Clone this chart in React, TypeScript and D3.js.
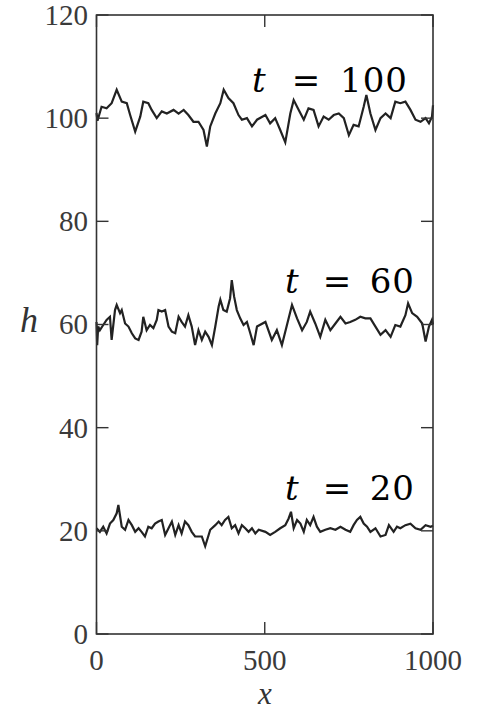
import React from "react";
import * as d3 from "d3";

// ---- data ----
const xTicks = [0, 500, 1000];
const yTicks = [0, 20, 40, 60, 80, 100, 120];
const xTickLabels = ["0", "500", "1000"];
const yTickLabels = ["0", "20", "40", "60", "80", "100", "120"];

const seriesT100: [number, number][] = [
  [0, 101], [3, 99.5], [15, 102.2], [30, 101.9], [45, 102.9], [60, 105.5], [75, 103.2], [90, 102.9],
  [100, 100.6], [115, 97.4], [130, 100.3], [139, 103.2], [154, 102.9], [164, 101.6], [179, 100],
  [194, 101.3], [209, 100.9], [229, 101.6], [244, 100.9], [259, 101.6], [273, 100.6], [288, 99.3],
  [303, 99.3], [318, 97.7], [328, 94.5], [338, 98.4], [353, 100.9], [368, 102.9], [378, 105.5],
  [392, 103.9], [407, 102.9], [422, 100.6], [432, 99.7], [447, 100], [462, 98.4], [477, 99.7],
  [502, 100.6], [516, 99], [531, 100], [546, 97.7], [561, 95.3], [576, 100.9], [586, 103.5],
  [601, 101.6], [616, 99.7], [630, 101.9], [645, 101.6], [660, 98.4], [675, 100.3], [690, 99.7],
  [705, 100.6], [720, 100.9], [735, 100], [750, 96.7], [764, 98.7], [779, 98.4], [794, 102.2],
  [802, 104.5], [814, 100.9], [829, 97.7], [844, 100], [859, 100.9], [874, 100], [888, 103.2],
  [903, 102.9], [918, 103.2], [933, 101.6], [948, 99.7], [963, 99.3], [978, 100], [988, 99],
  [997, 100.3], [1000, 102.5],
];

const seriesT60: [number, number][] = [
  [0, 60.5], [2, 56], [5, 59.6], [10, 58.9], [20, 59.9], [30, 60.9], [40, 61.5], [45, 57],
  [55, 62.8], [60, 63.8], [70, 62.2], [75, 62.8], [85, 60.2], [95, 59.6], [105, 58.3], [115, 57.3],
  [125, 57], [134, 58.6], [139, 61.5], [149, 58.9], [159, 59.9], [169, 59.3], [179, 60.9],
  [184, 62.8], [194, 62.5], [204, 62.8], [214, 59.6], [224, 58.6], [234, 58.3], [244, 61.5],
  [253, 60.5], [263, 59.6], [273, 61.8], [283, 59.6], [293, 56], [303, 58.9], [313, 57],
  [323, 58.6], [333, 57.6], [343, 56], [353, 59.6], [363, 63.5], [368, 64.8], [377, 62.8],
  [387, 62.5], [397, 65.1], [402, 68.6], [409, 65.4], [417, 62.8], [427, 61.2], [437, 59.9],
  [447, 60.5], [457, 58.3], [467, 56], [477, 59.6], [502, 60.5], [521, 57], [536, 58.9],
  [551, 56], [566, 59.9], [581, 63.8], [596, 61.2], [611, 58.9], [625, 60.5], [635, 62.5],
  [650, 60.2], [665, 57.6], [680, 60.9], [695, 58.9], [710, 60.2], [725, 61.5], [740, 60.2],
  [754, 60.5], [769, 60.9], [784, 61.5], [799, 61.2], [814, 61.2], [829, 59.6], [844, 58],
  [859, 58.9], [874, 57.6], [888, 59.9], [903, 59.6], [918, 61.8], [926, 64.1], [938, 62.2],
  [953, 61.5], [968, 60.2], [978, 56.7], [988, 59.6], [997, 60.9], [1000, 60],
];

const seriesT20: [number, number][] = [
  [0, 20.5], [10, 19.8], [20, 20.8], [30, 19.5], [40, 21.4], [50, 22.1], [60, 23.4], [65, 25],
  [75, 20.8], [85, 20.2], [95, 22.1], [105, 21.1], [115, 19.8], [125, 20.5], [134, 19.8],
  [144, 18.9], [154, 20.8], [164, 20.5], [174, 21.4], [184, 21.8], [194, 22.1], [204, 19.2],
  [214, 20.5], [224, 21.8], [234, 19.2], [244, 21.1], [253, 19.5], [263, 21.8], [273, 21.1],
  [283, 19.8], [293, 18.9], [303, 18.9], [313, 18.9], [323, 17], [338, 20.2], [353, 21.1],
  [363, 21.8], [372, 21.1], [382, 22.1], [392, 22.7], [402, 20.5], [412, 21.1], [422, 19.5],
  [432, 21.1], [442, 20.5], [452, 19.8], [462, 20.5], [472, 19.5], [482, 20.2], [502, 19.8],
  [516, 19.2], [531, 19.8], [546, 20.5], [561, 21.1], [571, 22.4], [578, 23.7], [586, 20.5],
  [596, 22.1], [606, 21.4], [616, 19.8], [625, 22.1], [635, 21.1], [645, 22.7], [655, 20.8],
  [665, 19.8], [680, 20.2], [695, 20.5], [710, 20.2], [725, 20.8], [740, 20.2], [754, 19.8],
  [764, 21.1], [774, 22.1], [784, 22.7], [794, 21.4], [804, 20.8], [814, 19.8], [829, 20.5],
  [844, 18.9], [859, 19.2], [869, 21.1], [883, 19.8], [893, 20.8], [903, 20.5], [918, 21.1],
  [933, 21.4], [948, 20.5], [963, 20.2], [978, 21.1], [993, 20.8], [1000, 21],
];

const seriesLabels = ["100", "60", "20"];

export default function App() {
  const W = 481;
  const H = 711;
  const left = 96.5;
  const right = 433;
  const top = 15;
  const bottom = 634;

  const x = d3.scaleLinear().domain([0, 1000]).range([left, right]);
  const y = d3.scaleLinear().domain([0, 120]).range([bottom, top]);
  const line = d3
    .line<[number, number]>()
    .x((d) => x(d[0]))
    .y((d) => y(d[1]))
    .curve(d3.curveLinear);

  const axisColor = "#333";
  const tickFont = "'Liberation Serif', 'Times New Roman', serif";
  const mathFont = "'DejaVu Serif', serif";
  const tickLen = 12;

  const annotations = [
    { label: seriesLabels[0], tx: 252, eqx: 306, nx: 408, by: 92 },
    { label: seriesLabels[1], tx: 285, eqx: 337, nx: 415, by: 293 },
    { label: seriesLabels[2], tx: 285, eqx: 337, nx: 415, by: 500 },
  ];

  return (
    <svg
      width={W}
      height={H}
      style={{ position: "absolute", left: 0, top: 0, background: "#fff" }}
    >
      <rect x={0} y={0} width={W} height={H} fill="#fff" />
      {[seriesT100, seriesT60, seriesT20].map((s, i) => (
        <path
          key={i}
          d={line(s) || ""}
          fill="none"
          stroke="#222"
          strokeWidth={2.2}
          strokeLinejoin="miter"
        />
      ))}
      {/* frame */}
      <rect
        x={left}
        y={top}
        width={right - left}
        height={bottom - top}
        fill="none"
        stroke={axisColor}
        strokeWidth={1.6}
      />
      {/* y ticks */}
      {yTicks.map((t, i) => (
        <g key={"y" + t}>
          <line x1={left} x2={left + tickLen} y1={y(t)} y2={y(t)} stroke={axisColor} strokeWidth={1.4} />
          <line x1={right} x2={right - tickLen} y1={y(t)} y2={y(t)} stroke={axisColor} strokeWidth={1.4} />
          <text
            x={88}
            y={y(t)}
            dy="0.34em"
            textAnchor="end"
            fontFamily={tickFont}
            fontSize={29}
            fill="#3a3a3a"
          >
            {yTickLabels[i]}
          </text>
        </g>
      ))}
      {/* x ticks */}
      {xTicks.map((t, i) => (
        <g key={"x" + t}>
          <line x1={x(t)} x2={x(t)} y1={bottom} y2={bottom - tickLen} stroke={axisColor} strokeWidth={1.4} />
          <line x1={x(t)} x2={x(t)} y1={top} y2={top + tickLen} stroke={axisColor} strokeWidth={1.4} />
          <text
            x={x(t)}
            y={670}
            textAnchor="middle"
            fontFamily={tickFont}
            fontSize={29}
            fill="#3a3a3a"
          >
            {xTickLabels[i]}
          </text>
        </g>
      ))}
      {/* axis titles */}
      <text x={29} y={332} textAnchor="middle" fontFamily={tickFont} fontStyle="italic" fontSize={36} fill="#333">
        h
      </text>
      <text x={265} y={704} textAnchor="middle" fontFamily={tickFont} fontStyle="italic" fontSize={31} fill="#333">
        x
      </text>
      {/* annotations */}
      {annotations.map((a) => (
        <g key={a.label} fill="#000" fontFamily={mathFont} fontSize={34}>
          <text x={a.tx} y={a.by} fontStyle="italic">t</text>
          <text x={a.eqx} y={a.by} textAnchor="middle">=</text>
          <text x={a.nx} y={a.by} textAnchor="end" letterSpacing={1}>{a.label}</text>
        </g>
      ))}
    </svg>
  );
}
